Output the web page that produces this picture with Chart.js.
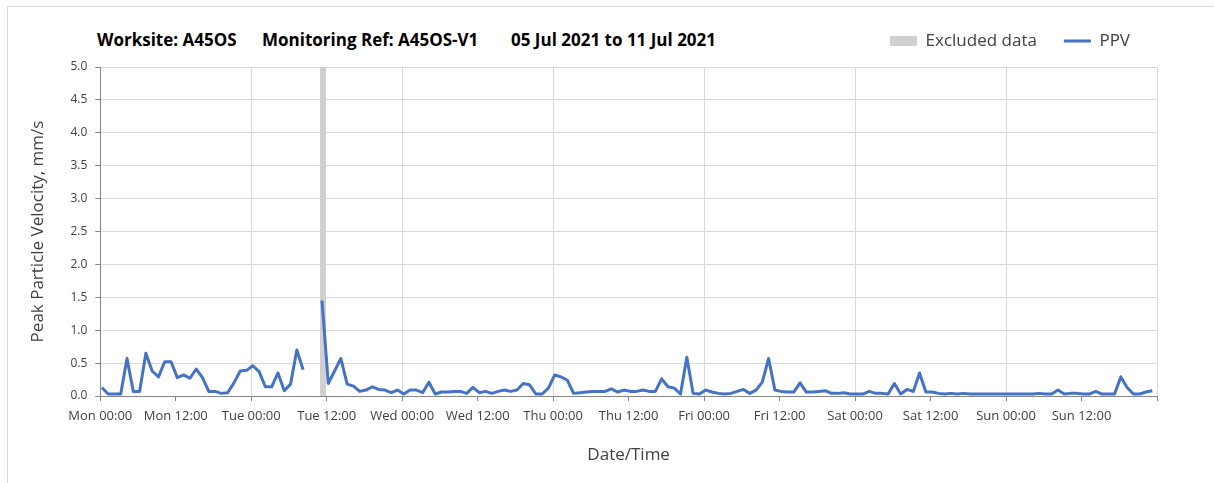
<!DOCTYPE html>
<html>
<head>
<meta charset="utf-8">
<title>PPV A45OS-V1</title>
<script src="https://cdn.jsdelivr.net/npm/chart.js@4"></script>
<style>
  html, body { margin: 0; padding: 0; background: #fff; }
  #wrap  { position: relative; width: 1214px; height: 483px; overflow: hidden; }
  #frame { position: absolute; left: 7px; top: 6px; right: 0; bottom: 0;
           border-top: 1px solid #d9d9d9; border-left: 1px solid #d9d9d9; }
  .ttl   { position: absolute; top: 28px; font: bold 17px "Open Sans", sans-serif;
           color: #000; white-space: pre; }
  #chart { position: absolute; left: 0; top: 0; }
</style>
</head>
<body>
<div id="wrap">
  <div id="frame"></div>
  <span class="ttl" style="left:97px">Worksite: A45OS</span>
  <span class="ttl" style="left:262px">Monitoring Ref: A45OS-V1</span>
  <span class="ttl" style="left:511px">05 Jul 2021 to 11 Jul 2021</span>
  <canvas id="chart" width="1214" height="483"></canvas>
</div>

<script>
// ── 데이터 ────────────────────────────────────────────────
const xTickLabels = [
  "Mon 00:00", "Mon 12:00", "Tue 00:00", "Tue 12:00", "Wed 00:00", "Wed 12:00",
  "Thu 00:00", "Thu 12:00", "Fri 00:00", "Fri 12:00", "Sat 00:00", "Sat 12:00",
  "Sun 00:00", "Sun 12:00",
];
const yTickLabels = ["0.0", "0.5", "1.0", "1.5", "2.0", "2.5", "3.0", "3.5", "4.0", "4.5", "5.0"];

// hourly PPV readings (mm/s), first reading a quarter past Mon 00:00
const firstReadingHour = 0.25;
const ppv = [
  0.13, 0.03, 0.03, 0.03, 0.57, 0.07, 0.07, 0.65, 0.38, 0.29,
  0.52, 0.52, 0.28, 0.32, 0.27, 0.41, 0.28, 0.07, 0.07, 0.04,
  0.05, 0.20, 0.38, 0.39, 0.46, 0.37, 0.14, 0.14, 0.35, 0.08,
  0.18, 0.70, 0.40, null, null, 1.45, 0.19, 0.38, 0.57, 0.18,
  0.15, 0.07, 0.09, 0.14, 0.10, 0.09, 0.05, 0.09, 0.03, 0.09,
  0.09, 0.05, 0.21, 0.03, 0.06, 0.06, 0.07, 0.07, 0.04, 0.13,
  0.05, 0.07, 0.04, 0.07, 0.09, 0.07, 0.09, 0.19, 0.17, 0.03,
  0.03, 0.12, 0.32, 0.29, 0.24, 0.04, 0.05, 0.06, 0.07, 0.07,
  0.07, 0.11, 0.06, 0.09, 0.07, 0.07, 0.09, 0.07, 0.07, 0.26,
  0.14, 0.12, 0.03, 0.59, 0.04, 0.03, 0.09, 0.06, 0.04, 0.03,
  0.04, 0.07, 0.10, 0.04, 0.09, 0.21, 0.57, 0.09, 0.07, 0.06,
  0.06, 0.20, 0.06, 0.06, 0.07, 0.08, 0.04, 0.04, 0.05, 0.03,
  0.03, 0.03, 0.07, 0.04, 0.04, 0.03, 0.19, 0.03, 0.10, 0.07,
  0.35, 0.06, 0.06, 0.04, 0.03, 0.04, 0.03, 0.04, 0.03, 0.03,
  0.03, 0.03, 0.03, 0.03, 0.03, 0.03, 0.03, 0.03, 0.03, 0.04,
  0.03, 0.03, 0.09, 0.03, 0.04, 0.04, 0.03, 0.03, 0.07, 0.03,
  0.03, 0.03, 0.29, 0.13, 0.03, 0.03, 0.06, 0.08,
];

// excluded period, hours from Mon 00:00
const excludedFrom = 34.9;
const excludedTo   = 35.9;

// ── 스타일 ────────────────────────────────────────────────
const FONT       = "'Open Sans', sans-serif";
const TEXT_COLOR = "#404040";
const AXIS_COLOR = "#868686";
const GRID_COLOR = "#d9d9d9";
const PPV_COLOR  = "#4472C4";
const EXCL_COLOR = "#d0d0d0";

// ── 차트 ──────────────────────────────────────────────────
new Chart(document.getElementById("chart"), {
  type: "line",
  data: {
    datasets: [
      {
        label: "Excluded data",
        data: [
          { x: excludedFrom, y: 5 },
          { x: excludedTo,   y: 5 },
        ],
        fill: "origin",
        backgroundColor: EXCL_COLOR,
        borderWidth: 0,
        pointRadius: 0,
        pointStyle: "rect",
        order: 2,
      },
      {
        label: "PPV",
        data: ppv.map((v, i) => ({ x: firstReadingHour + i, y: v })),
        borderColor: PPV_COLOR,
        backgroundColor: PPV_COLOR,
        borderWidth: 3,
        borderJoinStyle: "round",
        tension: 0,
        pointRadius: 0,
        pointStyle: "line",
        spanGaps: false,
        order: 1,
      },
    ],
  },
  options: {
    responsive: false,
    animation: false,
    layout: { padding: { left: 24, right: 57, top: 5.5, bottom: 14 } },
    plugins: {
      tooltip: { enabled: false },
      legend: {
        position: "top",
        align: "end",
        labels: {
          usePointStyle: true,
          pointStyleWidth: 27,
          boxHeight: 10,
          padding: 27,
          color: TEXT_COLOR,
          font: { family: FONT, size: 17 },
          sort: (a, b) => a.datasetIndex - b.datasetIndex,
        },
      },
      // spacer between legend and plot
      subtitle: {
        display: true,
        text: "",
        weight: 500,
        padding: { top: 6.5, bottom: 0 },
        font: { size: 1, lineHeight: 1 },
      },
    },
    scales: {
      x: {
        type: "linear",
        min: 0,
        max: 168,
        border: { color: AXIS_COLOR },
        grid: {
          color: ctx => ctx.tick && ctx.tick.value % 24 === 0 ? GRID_COLOR : "rgba(0,0,0,0)",
          tickColor: AXIS_COLOR,
          tickLength: 5,
        },
        ticks: {
          stepSize: 12,
          autoSkip: false,
          maxRotation: 0,
          padding: 7,
          color: TEXT_COLOR,
          font: { family: FONT, size: 13 },
          callback: (v, i) => xTickLabels[i] ?? "",
        },
        title: {
          display: true,
          text: "Date/Time",
          color: TEXT_COLOR,
          font: { family: FONT, size: 17 },
          padding: { top: 14, bottom: 4 },
        },
      },
      y: {
        min: 0,
        max: 5,
        border: { color: AXIS_COLOR },
        grid: { color: GRID_COLOR, tickColor: AXIS_COLOR, tickLength: 5 },
        ticks: {
          stepSize: 0.5,
          padding: 8,
          color: TEXT_COLOR,
          font: { family: FONT, size: 12 },
          callback: (v, i) => yTickLabels[i],
        },
        title: {
          display: true,
          text: "Peak Particle Velocity, mm/s",
          color: TEXT_COLOR,
          font: { family: FONT, size: 17 },
          padding: { top: 4, bottom: 14 },
        },
      },
    },
  },
});
</script>
</body>
</html>
